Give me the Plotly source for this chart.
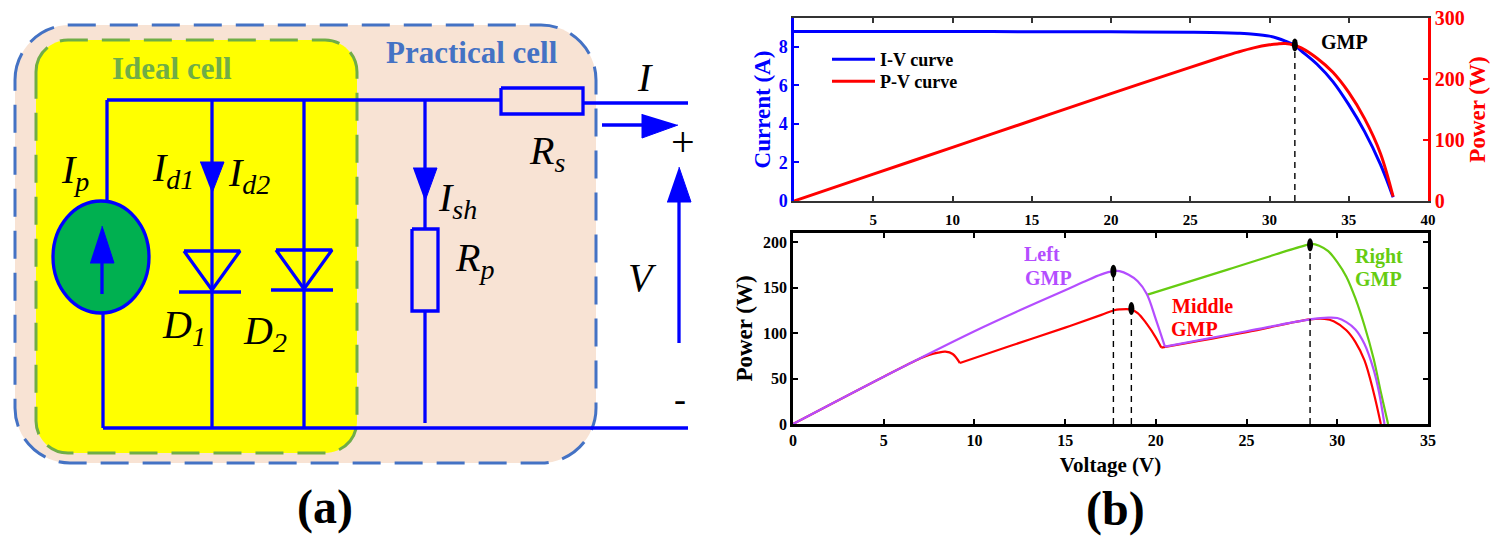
import plotly.graph_objects as go

SERIF = "Liberation Serif"
BLUE, RED = "#0000ff", "#ff0000"
PURPLE, GREEN = "#b44dff", "#66cc11"
DARK = "#333333"

# ---- I-V / P-V curves ----
iv_voltage = [0, 5, 10, 15, 20, 25, 27, 28, 29, 30, 30.5, 31, 31.6, 32, 33, 34, 35, 36, 37, 37.8]
iv_current = [8.8, 8.8, 8.8, 8.79, 8.78, 8.76, 8.74, 8.71, 8.66, 8.56, 8.45, 8.3, 8.08, 7.8, 7.1, 6.2, 5.0, 3.6, 1.9, 0.2]
pv_voltage = [0, 5, 10, 15, 20, 25, 27, 28, 29, 30, 30.5, 31, 31.6, 32, 33, 34, 35, 36, 37, 37.8]
pv_power = [0, 44, 88, 132, 176, 219, 236, 244, 251, 256, 257.5, 258, 255, 251, 234, 211, 178, 135, 78, 7]
top_gmp_v, top_gmp_i = 31.6, 8.1

# ---- Partial shading curves (None marks a kink, where the curve restarts) ----
left_v = [0, 5, 10, 12.5, 15, 16, 17, 17.66, 18, 18.5, 19, 19.5, 20, 20.5, None,
          20.5, 25, 28.5, 29.5, 30, 30.5, 31, 31.5, 32, 32.3, 32.6]
left_p = [0, 52, 102, 125, 147, 156, 164.5, 168, 168, 164, 157, 143, 115, 85, None,
          85, 102, 115, 117, 116.5, 112, 104, 88, 60, 35, 0]
middle_v = [0, 5, 7, 7.5, 8, 8.4, 8.8, 9.2, None,
            9.2, 12, 15, 17, 17.7, 18, 18.6, 19, 19.5, 20, 20.3, None,
            20.3, 25, 28.5, 29.3, 29.8, 30.5, 31, 31.5, 32, 32.4]
middle_p = [0, 52, 72, 76, 78.5, 79.5, 77, 67, None,
            67, 86, 106, 120, 125, 126, 126, 122, 110, 95, 84, None,
            84, 101, 115, 115.5, 113, 103, 90, 70, 35, 0]
right_v = [19.5, 24, 28, 28.6, 29, 29.5, 30, 30.5, 31, 31.5, 32, 32.4, 32.8]
right_p = [142, 170, 195, 198, 196, 190, 178, 162, 138, 108, 72, 35, 0]
bottom_gmp_v = [17.66, 18.65, 28.5]
bottom_gmp_p = [168, 127, 197]

# ---- Circuit diagram, in picture pixels ----
wires = [[(107, 100), (107, 201)], [(103, 313), (103, 428)], [(107, 100), (501, 100)],
         [(583, 103), (688, 103)], [(103, 428), (688, 428)], [(212, 100), (212, 428)],
         [(304, 100), (304, 428)], [(425, 100), (425, 229)], [(425, 311), (425, 423)],
         [(102, 263), (102, 294)], [(602, 125), (645, 125)], [(679, 343), (679, 200)],
         [(179, 292), (241, 292)], [(271, 290), (333, 290)],
         [(184, 251), (240, 251), (212, 290), (184, 251)],
         [(276, 250), (332, 250), (304, 289), (276, 250)],
         [(501, 88), (583, 88), (583, 114), (501, 114), (501, 88)],
         [(412, 229), (438, 229), (438, 311), (412, 311), (412, 229)]]
arrows = [[(200, 162), (224, 162), (212, 193)], [(90, 263), (114, 263), (102, 226)],
          [(413, 168), (437, 168), (425, 201)], [(642, 114), (642, 138), (678, 125)],
          [(667, 202), (691, 202), (679, 167)]]
outer_box = (15, 25, 596, 463, 55)
inner_box = (36, 40, 357, 453, 32)
source = (53, 201, 149, 313)
# text, x, y, size, colour, bold, italic
labels = [("I<sub>p</sub>", 75, 172, 40, "black", False, True), ("I<sub>d1</sub>", 173, 170, 40, "black", False, True),
          ("I<sub>d2</sub>", 249, 175, 40, "black", False, True), ("D<sub>1</sub>", 184, 327, 40, "black", False, True),
          ("D<sub>2</sub>", 265, 333, 40, "black", False, True), ("I<sub>sh</sub>", 457, 200, 40, "black", False, True),
          ("R<sub>p</sub>", 474, 260, 40, "black", False, True), ("R<sub>s</sub>", 547, 153, 40, "black", False, True),
          ("I", 645, 77, 40, "black", False, True), ("V", 642, 277, 40, "black", False, True),
          ("+", 683, 142, 42, "black", False, False), ("-", 680, 399, 36, "black", False, False),
          ("Ideal cell", 172, 68, 31, "#70ad47", True, False), ("Practical cell", 472, 52, 31, "#4472c4", True, False),
          ("(a)", 325, 507, 48, "black", True, False), ("(b)", 1115, 509, 48, "black", True, False),
          ("GMP", 1344, 42, 20, "black", True, False),
          ("Left", 1042, 254, 20, PURPLE, True, False), ("GMP", 1048, 278, 20, PURPLE, True, False),
          ("Right", 1379, 256, 20, GREEN, True, False), ("GMP", 1378, 279, 20, GREEN, True, False),
          ("Middle", 1202, 306, 20, RED, True, False), ("GMP", 1194, 329, 20, RED, True, False)]

W, H = 1499, 544
TOP_X = [794 / W, 1428 / W]
TOP_Y = [1 - 201 / H, 1 - 18 / H]
BOT_X = [793 / W, 1428 / W]
BOT_Y = [1 - 424 / H, 1 - 233 / H]


def rounded(box):
    x0, y0, x1, y1, r = box
    k = 0.45 * r
    return (f"M {x0} {y0 + r} C {x0} {y0 + k} {x0 + k} {y0} {x0 + r} {y0} L {x1 - r} {y0} "
            f"C {x1 - k} {y0} {x1} {y0 + k} {x1} {y0 + r} L {x1} {y1 - r} "
            f"C {x1} {y1 - k} {x1 - k} {y1} {x1 - r} {y1} L {x0 + r} {y1} "
            f"C {x0 + k} {y1} {x0} {y1 - k} {x0} {y1 - r} Z")


fig = go.Figure()

# circuit
wx, wy = [], []
for w in wires:
    wx += [p[0] for p in w] + [None]
    wy += [p[1] for p in w] + [None]
fig.add_trace(go.Scatter(x=wx, y=wy, xaxis="x3", yaxis="y4", mode="lines", showlegend=False, hoverinfo="skip",
                         line=dict(color=BLUE, width=3.3)))
for a in arrows:
    fig.add_trace(go.Scatter(x=[p[0] for p in a], y=[p[1] for p in a], xaxis="x3", yaxis="y4", mode="lines",
                             fill="toself", fillcolor=BLUE, line=dict(color=BLUE, width=1),
                             showlegend=False, hoverinfo="skip"))

# top chart
fig.add_trace(go.Scatter(x=iv_voltage, y=iv_current, name="I-V curve", mode="lines", legend="legend",
                         line=dict(color=BLUE, width=3, shape="spline", smoothing=1), xaxis="x", yaxis="y"))
fig.add_trace(go.Scatter(x=pv_voltage, y=pv_power, name="P-V curve", mode="lines", legend="legend2",
                         line=dict(color=RED, width=3, shape="spline", smoothing=1), xaxis="x", yaxis="y2"))
fig.add_trace(go.Scatter(x=[top_gmp_v, top_gmp_v], y=[0, top_gmp_i], mode="lines", showlegend=False,
                         line=dict(color="black", width=1.4, dash="6px,5px"), xaxis="x", yaxis="y"))

# bottom chart
for vx, py, col in [(right_v, right_p, GREEN), (middle_v, middle_p, RED), (left_v, left_p, PURPLE)]:
    fig.add_trace(go.Scatter(x=vx, y=py, mode="lines", showlegend=False, connectgaps=False,
                             line=dict(color=col, width=2.2, shape="spline", smoothing=1),
                             xaxis="x2", yaxis="y3"))
for v, p in zip(bottom_gmp_v, bottom_gmp_p):
    fig.add_trace(go.Scatter(x=[v, v], y=[0, p], mode="lines", showlegend=False,
                             line=dict(color="black", width=1.4, dash="6px,5px"), xaxis="x2", yaxis="y3"))

shapes = [
    dict(type="path", path=rounded(outer_box), xref="x3", yref="y4", layer="below", fillcolor="#f8e3d4",
         line=dict(color="#4472c4", width=3, dash="28px,14px")),
    dict(type="path", path=rounded(inner_box), xref="x3", yref="y4", layer="below", fillcolor="#ffff00",
         line=dict(color="#70ad47", width=3, dash="28px,14px")),
    dict(type="circle", x0=source[0], y0=source[1], x1=source[2], y1=source[3], xref="x3", yref="y4",
         layer="below", fillcolor="#00b050", line=dict(color=BLUE, width=3.3)),
    dict(type="circle", xref="x", yref="y", xsizemode="pixel", ysizemode="pixel", xanchor=top_gmp_v,
         yanchor=top_gmp_i, x0=-3, x1=3, y0=-6.5, y1=6.5, fillcolor="black", line=dict(width=0)),
]
for v, p in zip(bottom_gmp_v, bottom_gmp_p):
    shapes.append(dict(type="circle", xref="x2", yref="y3", xsizemode="pixel", ysizemode="pixel", xanchor=v,
                       yanchor=p, x0=-3, x1=3, y0=-6.5, y1=6.5, fillcolor="black", line=dict(width=0)))

annotations = [dict(text=t, x=x, y=y, xref="x3", yref="y4", showarrow=False, xanchor="center", yanchor="middle",
                    font=dict(family=SERIF, size=s, color=c, weight="bold" if b else "normal",
                              style="italic" if i else "normal"))
               for t, x, y, s, c, b, i in labels]


def font(size, color="black"):
    return dict(family=SERIF, size=size, color=color, weight="bold")


def axis(**kw):
    base = dict(showgrid=False, zeroline=False, showline=True, ticks="inside", ticklen=5, tickwidth=2)
    base.update(kw)
    return base


fig.update_layout(
    width=W, height=H, margin=dict(l=0, r=0, t=0, b=0), template="none",
    paper_bgcolor="white", plot_bgcolor="rgba(0,0,0,0)", shapes=shapes, annotations=annotations,
    showlegend=True,
    legend=dict(x=827 / W, y=1 - 41 / H, xanchor="left", yanchor="top", bgcolor="rgba(0,0,0,0)",
                font=font(18), itemwidth=43),
    legend2=dict(x=827 / W, y=1 - 63 / H, xanchor="left", yanchor="top", bgcolor="rgba(0,0,0,0)",
                 font=font(18), itemwidth=43),
    xaxis=axis(domain=TOP_X, range=[0, 40], tickvals=[5, 10, 15, 20, 25, 30, 35, 40], linecolor=DARK, linewidth=2,
               tickcolor=DARK, mirror="ticks", tickfont=font(15), anchor="y", ticklabelstandoff=4),
    yaxis=axis(domain=TOP_Y, range=[0, 9.5], tickvals=[0, 2, 4, 6, 8], linecolor=BLUE, linewidth=2.5, tickcolor=BLUE,
               tickfont=font(18, BLUE), anchor="x",
               title=dict(text="Current (A)", font=font(23, BLUE), standoff=2)),
    yaxis2=axis(domain=TOP_Y, range=[0, 300], tickvals=[0, 100, 200, 300], linecolor=RED, linewidth=2.5, tickcolor=RED,
                tickfont=font(20, RED), anchor="x", overlaying="y", side="right",
                title=dict(text="Power (W)", font=font(23, RED), standoff=5)),
    xaxis2=axis(domain=BOT_X, range=[0, 35], tickvals=[0, 5, 10, 15, 20, 25, 30, 35], linecolor="black", linewidth=2.5,
                tickcolor="black", mirror="ticks", tickfont=font(16), anchor="y3",
                title=dict(text="Voltage (V)", font=font(21), standoff=10)),
    yaxis3=axis(domain=BOT_Y, range=[0, 210], tickvals=[0, 50, 100, 150, 200], linecolor="black", linewidth=2.5,
                tickcolor="black", mirror="ticks", tickfont=font(16), anchor="x2",
                title=dict(text="Power (W)", font=font(23), standoff=4)),
    xaxis3=dict(domain=[0, 1], range=[0, W], visible=False, anchor="y4", fixedrange=True),
    yaxis4=dict(domain=[0, 1], range=[H, 0], visible=False, anchor="x3", fixedrange=True),
)

fig.write_html("out.html", config=dict(displayModeBar=False),
               post_script="document.body.style.margin='0';document.body.style.overflow='hidden';")
